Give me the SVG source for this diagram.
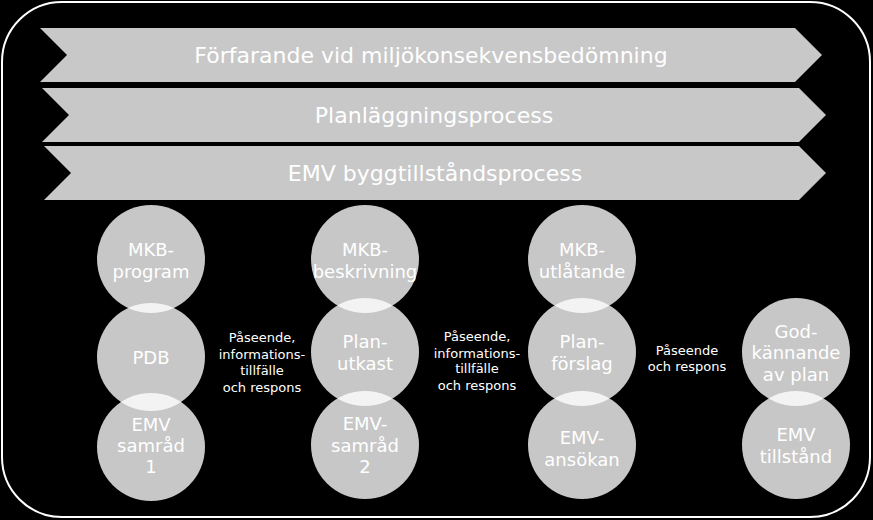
<svg xmlns="http://www.w3.org/2000/svg" width="873" height="520" viewBox="0 0 873 520">
<style>
.bar{fill:#c8c8c8}
.c{fill:#fff;fill-opacity:0.78}
text{font-family:"DejaVu Sans",sans-serif;fill:#fff;text-anchor:middle}
.b{font-size:22px}
.n{font-size:18px}
.s{font-size:13px}
</style>
<rect width="873" height="520" fill="#000"/>
<rect x="2" y="2" width="868" height="515" rx="60" fill="#000" stroke="#fff" stroke-width="2"/>
<g id="bar1"><polygon class="bar" points="40,28 795,28 822,55 795,82 40,82 67,55"/><text class="b" x="431" y="63">Förfarande vid miljökonsekvensbedömning</text></g>
<g id="bar2"><polygon class="bar" points="42,88 799,88 826,115 799,142 42,142 69,115"/><text class="b" x="434" y="123">Planläggningsprocess</text></g>
<g id="bar3"><polygon class="bar" points="44,146 799,146 826,173 799,200 44,200 71,173"/><text class="b" x="435" y="181">EMV byggtillståndsprocess</text></g>
<g id="col1">
<circle class="c" cx="151" cy="259" r="54"/><circle class="c" cx="151" cy="357" r="54"/><circle class="c" cx="151" cy="447" r="54"/>
<text class="n" x="151" y="256">MKB-</text><text class="n" x="151" y="278">program</text>
<text class="n" x="151" y="364">PDB</text>
<text class="n" x="151" y="431">EMV</text><text class="n" x="151" y="452">samråd</text><text class="n" x="151" y="473">1</text>
</g>
<g id="col2">
<circle class="c" cx="365" cy="259" r="54"/><circle class="c" cx="365" cy="352" r="54"/><circle class="c" cx="365" cy="445" r="54"/>
<text class="n" x="365" y="256">MKB-</text><text class="n" x="365" y="278">beskrivning</text>
<text class="n" x="365" y="348">Plan-</text><text class="n" x="365" y="370">utkast</text>
<text class="n" x="365" y="430">EMV-</text><text class="n" x="365" y="452">samråd</text><text class="n" x="365" y="473">2</text>
</g>
<g id="col3">
<circle class="c" cx="582" cy="259" r="54"/><circle class="c" cx="582" cy="352" r="54"/><circle class="c" cx="582" cy="445" r="54"/>
<text class="n" x="582" y="256">MKB-</text><text class="n" x="582" y="278">utlåtande</text>
<text class="n" x="582" y="348">Plan-</text><text class="n" x="582" y="370">förslag</text>
<text class="n" x="582" y="444">EMV-</text><text class="n" x="582" y="466">ansökan</text>
</g>
<g id="col4">
<circle class="c" cx="796" cy="352" r="54"/><circle class="c" cx="796" cy="445" r="54"/>
<text class="n" x="796" y="338">God-</text><text class="n" x="796" y="359">kännande</text><text class="n" x="796" y="381">av plan</text>
<text class="n" x="796" y="441">EMV</text><text class="n" x="796" y="463">tillstånd</text>
</g>
<g id="labels">
<text class="s" x="262" y="342">Påseende,</text><text class="s" x="262" y="359">informations-</text><text class="s" x="262" y="375">tillfälle</text><text class="s" x="262" y="392">och respons</text>
<text class="s" x="477" y="341">Påseende,</text><text class="s" x="477" y="358">informations-</text><text class="s" x="477" y="373">tillfälle</text><text class="s" x="477" y="390">och respons</text>
<text class="s" x="687" y="355">Påseende</text><text class="s" x="687" y="371">och respons</text>
</g>
<g id="connectors"/>
</svg>
